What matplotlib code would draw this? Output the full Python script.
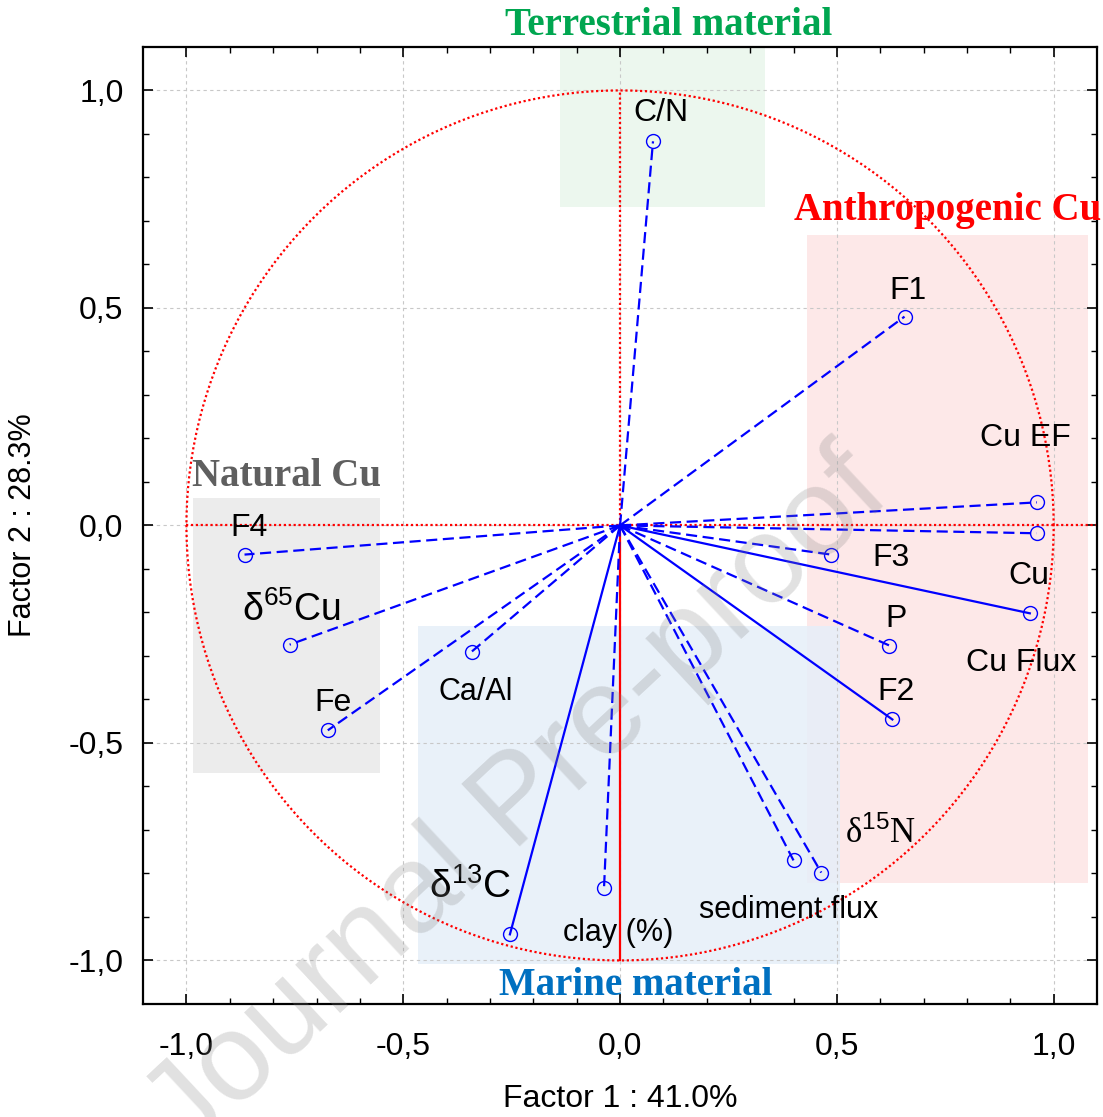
import numpy as np
import matplotlib
matplotlib.use('Agg')
import matplotlib.pyplot as plt
from matplotlib.patches import Rectangle

plt.rcParams['mathtext.fontset'] = 'custom'
plt.rcParams['mathtext.rm'] = 'Liberation Sans'
plt.rcParams['mathtext.it'] = 'Liberation Sans'

# loadings (Factor 1, Factor 2)
variables = ['C/N', 'F1', 'Cu EF', 'Cu', 'F3', 'Cu Flux', 'P', 'F2',
             'd15N', 'sediment flux', 'clay', 'd13C', 'Ca/Al', 'Fe', 'd65Cu', 'F4']
factor1 = [0.076, 0.656, 0.961, 0.961, 0.487, 0.945, 0.621, 0.628,
           0.464, 0.400, -0.037, -0.254, -0.342, -0.674, -0.762, -0.866]
factor2 = [0.883, 0.480, 0.053, -0.018, -0.067, -0.202, -0.276, -0.446,
           -0.798, -0.770, -0.834, -0.940, -0.290, -0.471, -0.274, -0.067]
solid_vars = ['Cu Flux', 'F2', 'd13C']

# label text and where it sits
label_text = ['C/N', 'F1', 'Cu EF', 'F3', 'Cu', 'P', 'Cu Flux', 'F2',
              'δ$^{15}$N', 'sediment flux', 'clay (%)', 'δ$^{13}$C',
              'Ca/Al', 'Fe', 'δ$^{65}$Cu', 'F4']
label_x = [0.095, 0.665, 0.935, 0.624, 0.942, 0.637, 0.924, 0.637,
           0.600, 0.388, -0.005, -0.346, -0.333, -0.663, -0.757, -0.855]
label_y = [0.947, 0.540, 0.200, -0.076, -0.117, -0.214, -0.317, -0.382,
           -0.708, -0.885, -0.938, -0.830, -0.382, -0.409, -0.195, -0.007]
label_size = [23, 23, 23, 23, 23, 23, 23, 23, 25, 22, 22, 28, 22, 23, 27, 23]
label_font = ['Liberation Sans'] * 8 + ['Liberation Serif'] + ['Liberation Sans'] * 7

# group boxes: x0, x1, y0, y1, colour
groups = ['Terrestrial material', 'Anthropogenic Cu', 'Natural Cu', 'Marine material']
group_box = [(-0.139, 0.335, 0.731, 1.10), (0.430, 1.078, -0.823, 0.667),
             (-0.984, -0.554, -0.570, 0.062), (-0.467, 0.508, -1.007, -0.232)]
group_fill = ['#e9f6ec', '#fde4e4', '#e9e9e9', '#e6eff9']
group_color = ['#00a650', '#ff0000', '#5f5f5f', '#0070c0']
group_pos = [(0.111, 1.150, 'center'), (0.402, 0.724, 'left'),
             (-0.769, 0.113, 'center'), (0.037, -1.057, 'center')]

fig = plt.figure(figsize=(11.03, 11.17), dpi=100)
ax = fig.add_axes([0.1297, 0.1012, 0.8649, 0.8568])
ax.set_xlim(-1.1, 1.1)
ax.set_ylim(-1.1, 1.1)

for (x0, x1, y0, y1), fc in zip(group_box, group_fill):
    ax.add_patch(Rectangle((x0, y0), x1 - x0, y1 - y0, facecolor=fc,
                           edgecolor='none', alpha=0.85, zorder=0))

ax.grid(True, color='#c8c8c8', linestyle=(0, (3, 3)), linewidth=0.8, zorder=0.5)

# unit circle and axes through origin
t = np.linspace(0, 2 * np.pi, 400)
ax.plot(np.cos(t), np.sin(t), color='red', linestyle=(0, (1, 1.2)), lw=1.6, zorder=2)
ax.plot([-1, 1.1], [0, 0], color='red', linestyle=(0, (1, 1.2)), lw=1.6, zorder=2)
ax.plot([0, 0], [0, 1], color='red', linestyle=(0, (1, 1.2)), lw=1.6, zorder=2)
ax.plot([0, 0], [-1, 0], color='red', linestyle='-', lw=1.6, zorder=2)

for name, fx, fy in zip(variables, factor1, factor2):
    ls = '-' if name in solid_vars else (0, (5, 2.5))
    ax.plot([0, fx], [0, fy], color='#0000ff', linestyle=ls, lw=1.6, zorder=3)
    ax.plot(fx, fy, 'o', mfc='none', mec='#0000ff', ms=10, mew=1.0, zorder=4)

for txt, lx, ly, fs, fam in zip(label_text, label_x, label_y, label_size, label_font):
    ax.text(lx, ly, txt, fontsize=fs, ha='center', va='center',
            family=fam, zorder=5)

for g, (gx, gy, ha), col in zip(groups, group_pos, group_color):
    ax.text(gx, gy, g, fontsize=28, ha=ha, va='center', color=col,
            family='Liberation Serif', fontweight='bold', clip_on=False, zorder=6)

ticks = [-1.0, -0.5, 0.0, 0.5, 1.0]
tick_labels = ['-1,0', '-0,5', '0,0', '0,5', '1,0']
ax.set_xticks(ticks)
ax.set_xticklabels(tick_labels)
ax.set_yticks(ticks)
ax.set_yticklabels(tick_labels)
ax.set_xticks(np.arange(-1.0, 1.01, 0.1), minor=True)
ax.set_yticks(np.arange(-1.0, 1.01, 0.1), minor=True)
ax.tick_params(which='both', direction='in', top=True, right=True)
ax.tick_params(which='major', length=7, width=1.2, labelsize=23)
ax.tick_params(axis='x', which='major', pad=20)
ax.tick_params(axis='y', which='major', pad=14)
ax.tick_params(which='minor', length=4, width=1.0)
for lab in ax.get_xticklabels() + ax.get_yticklabels():
    lab.set_family('Liberation Sans')
for sp in ax.spines.values():
    sp.set_linewidth(1.6)

ax.set_xlabel('Factor 1 : 41.0%', fontsize=23, family='Liberation Sans', labelpad=16)
ax.set_ylabel('Factor 2 : 28.3%', fontsize=22, family='Liberation Sans', labelpad=22)

# watermark
fig.text(0.470, 0.281, 'Journal Pre-proof', fontsize=90, color='#808080', alpha=0.24,
         rotation=43, ha='center', va='center', family='Liberation Sans', zorder=10)

fig.savefig('out.png', dpi=100)
